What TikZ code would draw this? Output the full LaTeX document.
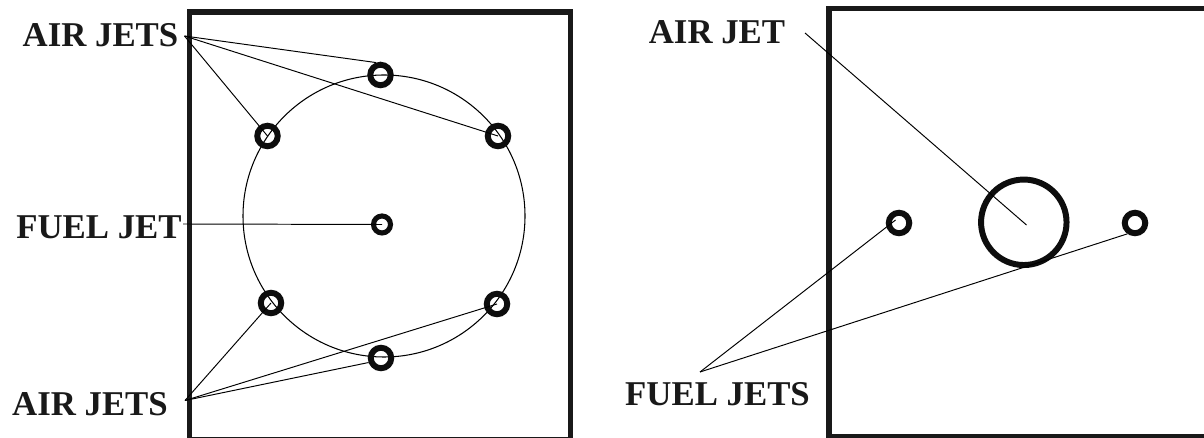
\documentclass[tikz,border=0pt]{standalone}
\usepackage{fontspec}
\setmainfont{Liberation Serif}
\usepackage{tikz}
\begin{document}
\begin{tikzpicture}[x=0.02cm,y=-0.02cm,
  jetlabel/.style={font=\fontsize{19.8}{20}\selectfont\bfseries,inner sep=0pt,text=black!90},
  wall/.style={line width=3pt,draw=black!90},
  lead/.style={line width=0.55pt},
  ring/.style={circle,draw=black!95,line width=3.4pt,inner sep=0pt,minimum size=0.41cm},
  smallring/.style={ring,line width=2.9pt,minimum size=0.34cm},
  bigring/.style={ring,line width=3.4pt,minimum size=1.71cm}]
  \useasboundingbox (0,0) rectangle (1204,438);
  \begin{scope}
  \clip (0,0) rectangle (1204,438);
  % left panel
  \draw[wall] (189.5,440) rectangle (570.7,12);
  % right panel, runs off the page
  \draw[wall] (1212,8.7) -| (829,436.5) -- (1212,436.5);
  \end{scope}
  \draw[line width=0.6pt] (384,216) circle (141);
  \node[ring] (airtop) at (380.5,75) {};
  \node[ring] (airul) at (267.5,136) {};
  \node[ring] (airur) at (498,136) {};
  \node[ring] (airll) at (271,303) {};
  \node[ring] (airlr) at (497,304) {};
  \node[ring] (airbot) at (381,358) {};
  \node[smallring] (fuelmid) at (382,224.5) {};
  \node[jetlabel] (airupper) at (100.5,35.5) {AIR JETS};
  \node[jetlabel] (fueljet) at (99,227.5) {FUEL JET};
  \node[jetlabel] (airlower) at (90,404.5) {AIR JETS};
  \coordinate (upperend) at (184.5,36);
  \coordinate (fuelend) at (183,224);
  \coordinate (lowerend) at (185,400.5);
  \draw[lead] (upperend)--(airtop.110); \draw[lead] (upperend)--(airul.center);
  \draw[lead] (upperend)--(airur.center);
  \draw[lead] (fuelend)--(fuelmid.center);
  \draw[lead] (lowerend)--(airll.center); \draw[lead] (lowerend)--(airlr.center);
  \draw[lead] (lowerend)--(airbot.200);
  % right panel contents
  \node[bigring] (airjet) at (1023.8,222.3) {};
  \node[ring] (fuelleft) at (899,223) {};
  \node[ring] (fuelright) at (1135,223) {};
  \node[jetlabel] (airlabel) at (717,32) {AIR JET};
  \node[jetlabel] (fuellabel) at (717.5,394.5) {FUEL JETS};
  \coordinate (airstart) at (805,33);
  \coordinate (airtip) at (1026.5,225);
  \coordinate (fuelstart) at (700,372);
  \coordinate (fueltip) at (895.6,220);
  \draw[lead] (airstart)--(airtip);
  \draw[lead] (fuelstart)--(fueltip);
  \draw[lead] (fuelstart)--(fuelright.235);
\end{tikzpicture}
\end{document}
